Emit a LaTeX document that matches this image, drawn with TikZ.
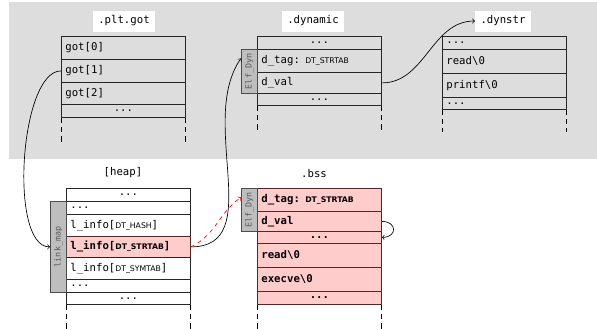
\documentclass[tikz,border=0pt]{standalone}
\usepackage{fontspec}
\usepackage{graphicx}
\setmonofont{DejaVu Sans Mono}
\newfontfamily\dtfamily{DejaVu Sans}
\usetikzlibrary{positioning}
\definecolor{bandgrey}{RGB}{221, 221, 221}
\definecolor{tabgrey}{RGB}{190, 190, 190}
\definecolor{hotpink}{RGB}{255, 204, 204}
\definecolor{hotline}{RGB}{80, 40, 40}
\newcommand{\codefont}{\ttfamily\fontsize{8}{9}\selectfont}
\newcommand{\dtsc}[1]{{\dtfamily\fontsize{5.8}{6}\selectfont #1}}
\newcommand{\tabtext}[1]{\rotatebox{90}{\ttfamily\fontsize{6.3}{7}\selectfont #1}}

\begin{document}
\begin{tikzpicture}[x=0.75pt, y=-0.75pt,
        cell/.style={draw=black!85, line width=0.6pt, anchor=north west, minimum width=93pt, text width=87pt, inner xsep=3pt, inner ysep=0pt, align=left, font=\codefont},
        mid/.style={cell, align=center},
        hot/.style={fill=hotpink, draw=hotline, font=\codefont\bfseries},
        tab/.style={draw=black!70, line width=0.6pt, fill=tabgrey, anchor=north west, minimum width=12pt, inner sep=0pt, text=black!65},
        caption/.style={font=\codefont, fill=white, inner xsep=4pt, inner ysep=0pt, minimum height=15.75pt},
        arrow/.style={->, line width=0.5pt},
        guide/.style={line width=0.6pt, dash pattern=on 4pt off 3pt}
      ]
        \useasboundingbox (0,0) rectangle (597,329);
        \fill[bandgrey] (9,2) rectangle (597,159);

        % .plt.got
        \node[caption] (lblgot) at (124,21) {.plt.got};
        \node[cell, minimum height=17.25pt] (got0)    at (61,36)  {got[0]};
        \node[cell, minimum height=17.25pt] (got1)    at (61,59)  {got[1]};
        \node[cell, minimum height=16.5pt]  (got2)    at (61,82)  {got[2]};
        \node[mid,  minimum height=9.75pt]  (gotdots) at (61,104) {...};
        \draw[guide] (gotdots.south west) -- ++(0,24);
        \draw[guide] (gotdots.south east) -- ++(0,24);

        % .dynamic
        \node[caption] (lbldyn) at (313,21) {.dynamic};
        \node[mid,  minimum height=9.75pt]  (dyntop) at (257,36) {...};
        \node[cell, minimum height=17.25pt] (dyntag) at (257,49) {d\_tag: \dtsc{DT\_STRTAB}};
        \node[cell, minimum height=15.75pt] (dynval) at (257,72) {d\_val};
        \node[mid,  minimum height=9pt]     (dynbot) at (257,93) {...};
        \node[tab, minimum height=33pt] (dynelf) at (241,49) {\tabtext{Elf\_Dyn}};
        \draw[guide] (dynbot.south west) -- ++(0,24);
        \draw[guide] (dynbot.south east) -- ++(0,24);

        % .dynstr
        \node[caption] (lblstr) at (503,21) {.dynstr};
        \node[cell, minimum height=9.75pt] (strtop)    at (442,36) {...};
        \node[cell, minimum height=18pt]   (strread)   at (442,49) {read\textbackslash 0};
        \node[cell, minimum height=18pt]   (strprintf) at (442,73) {printf\textbackslash 0};
        \node[cell, minimum height=9pt]    (strbot)    at (442,97) {...};
        \draw[guide] (strbot.south west) -- ++(0,22);
        \draw[guide] (strbot.south east) -- ++(0,22);

        % [heap]
        \node[font=\codefont] (lblheap) at (123,173) {[heap]};
        \node[mid,  minimum height=9.75pt]  (heaptop) at (66,188) {...};
        \node[cell, minimum height=9.75pt]  (heapa)   at (66,201) {...};
        \node[cell, minimum height=16.5pt]  (lhash)   at (66,214) {l\_info[\dtsc{DT\_HASH}]};
        \node[cell, hot, minimum height=15.75pt] (lstrtab) at (66,236) {l\_info[\dtsc{DT\_STRTAB}]};
        \node[cell, minimum height=16.5pt]  (lsymtab) at (66,257) {l\_info[\dtsc{DT\_SYMTAB}]};
        \node[cell, minimum height=9.75pt]  (heapb)   at (66,279) {...};
        \node[mid,  minimum height=9pt]     (heapbot) at (66,292) {...};
        \node[tab, minimum height=68.25pt] (linkmap) at (50,201) {\tabtext{link\_map}};
        \draw[guide] (heapbot.south west) -- ++(0,26);
        \draw[guide] (heapbot.south east) -- ++(0,26);

        % .bss
        \node[font=\codefont] (lblbss) at (314,174) {.bss};
        \node[cell, hot, minimum height=17.25pt] (bsstag)    at (257,188) {d\_tag: \dtsc{DT\_STRTAB}};
        \node[cell, hot, minimum height=15pt]    (bssval)    at (257,211) {d\_val};
        \node[mid, hot,  minimum height=9pt]     (bssdots)   at (257,231) {...};
        \node[cell, hot, minimum height=18pt]    (bssread)   at (257,243) {read\textbackslash 0};
        \node[cell, hot, minimum height=18pt]    (bssexecve) at (257,267) {execve\textbackslash 0};
        \node[mid, hot,  minimum height=9.75pt]  (bssbot)    at (257,291) {...};
        \node[tab, minimum height=32.25pt] (bsself) at (241,188) {\tabtext{Elf\_Dyn}};
        \draw[guide] (bssbot.south west) -- ++(0,26);
        \draw[guide] (bssbot.south east) -- ++(0,26);

        \draw[arrow] (got1.west) to[out=180, in=180, looseness=0.6] (linkmap.west);
        \draw[arrow] (lstrtab.east) to[out=0, in=235] ([yshift=9.75pt]dynelf.west);
        \draw[arrow, red, dashed] (lstrtab.east) to[out=25, in=215] ([yshift=9.4pt]bsself.west);
        \draw[arrow] (dynval.east) to[out=0, in=180] (lblstr.west);
        \draw[arrow] (bssval.east) to[out=0, in=0, looseness=2.5] (bssdots.east);
      \end{tikzpicture}
\end{document}
